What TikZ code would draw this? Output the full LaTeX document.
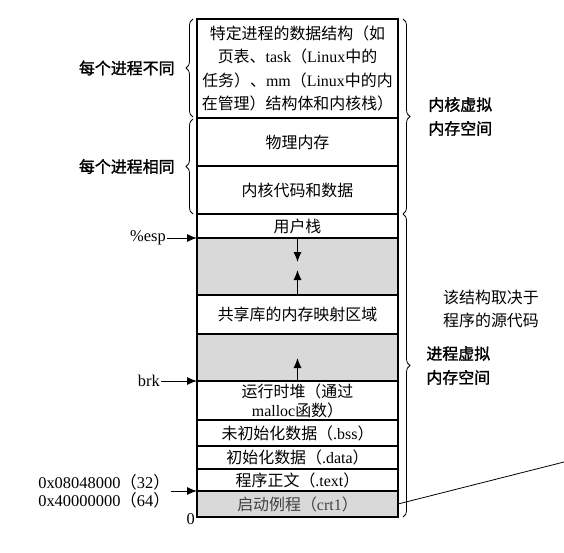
\documentclass[tikz,border=0pt]{standalone}
\usepackage{fontspec}
\setmainfont{Liberation Serif}
\newfontfamily\cjk{Noto Sans CJK SC}
\newfontfamily\cjkbf[FakeBold=1.5]{Noto Sans CJK SC}
\usetikzlibrary{arrows.meta,positioning,decorations.pathreplacing}
\newcommand\zh[1]{{\cjk #1}}
\tikzset{
  memrow/.style={draw,line width=1.2pt,minimum width=201bp,inner sep=0pt,outer sep=0pt,align=center,font=\fontsize{16}{23.5}\selectfont},
  gaprow/.style={memrow,fill=black!15},
  ptr/.style={-{Latex[length=10bp,width=8bp]},line width=1pt},
  brace/.style={decorate,decoration={brace,amplitude=7bp},line width=.8pt},
  sidelabel/.style={font=\fontsize{16}{24}\selectfont\cjkbf,align=left,inner sep=1bp},
  addr/.style={font=\fontsize{16.5}{18}\selectfont,align=right,inner sep=1bp},
}

\begin{document}
\begin{tikzpicture}[x=1bp,y=-1bp,font=\fontsize{16.5}{20}\selectfont]
  \useasboundingbox (0,0) rectangle (564,553);
  % kernel part
  \node[memrow,minimum height=99bp] (kdata) at (297.5,68.5)
    {\zh{特定进程的数据结构（如}\\\zh{页表、}task\zh{（}Linux\zh{中的}\\\zh{任务）、}mm\zh{（}Linux\zh{中的内}\\\zh{在管理）结构体和内核栈）}};
  \node[memrow,minimum height=48bp,below=0pt of kdata] (phys) {\zh{物理内存}};
  \node[memrow,minimum height=48bp,below=0pt of phys] (kcode) {\zh{内核代码和数据}};
  % user part
  \node[memrow,minimum height=24bp,below=0pt of kcode] (stack) {\zh{用户栈}};
  \node[gaprow,minimum height=57bp,below=0pt of stack] (gapa) {};
  \node[memrow,minimum height=39bp,below=0pt of gapa] (shlib) {\zh{共享库的内存映射区域}};
  \node[gaprow,minimum height=47bp,below=0pt of shlib] (gapb) {};
  \node[memrow,minimum height=39bp,below=0pt of gapb,font=\fontsize{16}{19}\selectfont] (heap) {\zh{运行时堆（通过}\\malloc\zh{函数）}};
  \node[memrow,minimum height=26bp,below=0pt of heap] (bss) {\zh{未初始化数据（}.bss\zh{）}};
  \node[memrow,minimum height=23bp,below=0pt of bss] (data) {\zh{初始化数据（}.data\zh{）}};
  \node[memrow,minimum height=22bp,below=0pt of data] (text) {\zh{程序正文（}.text\zh{）}};
  \node[gaprow,minimum height=26bp,below=0pt of text,text=black!75] (crt) {\zh{启动例程（}crt1\zh{）}};

  % growth arrows
  \coordinate (stk-tip) at ([yshift=-24bp]stack.south);
  \coordinate (lib-tip) at ([yshift=25bp]shlib.north);
  \coordinate (heap-tip) at ([yshift=23bp]heap.north);
  \draw[ptr] (stack.south) -- (stk-tip);
  \draw[ptr] (shlib.north) -- (lib-tip);
  \draw[ptr] (heap.north) -- (heap-tip);

  % pointers on the left
  \node[inner sep=1bp,left=30bp of stack.south west] (esp) {\%esp};
  \draw[ptr] (esp) -- (stack.south west);
  \node[inner sep=1bp,left=36bp of gapb.south west] (brk) {brk};
  \draw[ptr] (brk) -- (gapb.south west);
  \node[addr,left=26bp of text.south west] (addr) {0x08048000\zh{（}32\zh{）}\\0x40000000\zh{（}64\zh{）}};
  \draw[ptr] (addr) -- (text.south west);
  \node[inner sep=2bp,anchor=east] (zero) at ([yshift=-2bp]crt.south west) {0};

  % braces
  \draw[brace] ([xshift=-4bp,yshift=1bp]kdata.south west) -- ([xshift=-4bp]kdata.north west)
    node[midway,left=17bp,sidelabel] (diff) {每个进程不同};
  \draw[brace] ([xshift=-4bp]kcode.south west) -- ([xshift=-4bp,yshift=-1bp]phys.north west)
    node[midway,left=17bp,sidelabel] (same) {每个进程相同};
  \draw[brace] ([xshift=5bp]kdata.north east) -- ([xshift=5bp]kcode.south east)
    node[midway,right=24bp,sidelabel] (kvm) {内核虚拟\\内存空间};
  \draw[brace] ([xshift=5bp]stack.north east) -- ([xshift=5bp]crt.south east)
    node[midway,right=22bp,sidelabel] (pvm) {进程虚拟\\内存空间};

  \node[font=\fontsize{16}{23}\selectfont\cjk,align=left,anchor=west,inner sep=1bp] (note) at (442,309) {该结构取决于\\程序的源代码};
  \coordinate (tail) at (564,462);
  \draw[line width=.8pt] (crt.east) -- (tail);
\end{tikzpicture}
\end{document}
